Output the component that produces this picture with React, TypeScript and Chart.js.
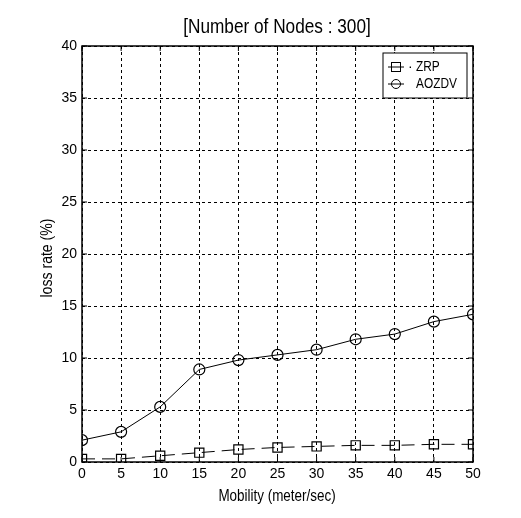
import React, { useEffect, useRef } from "react";
import { Chart, registerables } from "chart.js";

Chart.register(...registerables);

const mobility = [0, 5, 10, 15, 20, 25, 30, 35, 40, 45, 50];
const zrp = [0.3, 0.3, 0.6, 0.9, 1.2, 1.4, 1.5, 1.6, 1.6, 1.7, 1.7];
const aozdv = [2.1, 2.9, 5.3, 8.9, 9.8, 10.3, 10.8, 11.8, 12.3, 13.5, 14.2];
const yTicks = [0, 5, 10, 15, 20, 25, 30, 35, 40];
const titleText = "[Number of Nodes : 300]";
const xTitle = "Mobility (meter/sec)";
const yTitle = "loss rate (%)";

const FONT = "'Liberation Sans', Arial, sans-serif";

function condensedText(ctx: any, text: string, x: number, y: number, sx: number) {
  ctx.save();
  ctx.translate(x, y);
  ctx.scale(sx, 1);
  ctx.fillText(text, 0, 0);
  ctx.restore();
}

const decorPlugin = {
  id: "decor",
  afterDraw(chart: any) {
    const { ctx, chartArea } = chart;
    const { left, right, top, bottom } = chartArea;
    const xs = chart.scales.x;
    const ys = chart.scales.y;
    ctx.save();
    ctx.strokeStyle = "#000";
    ctx.lineWidth = 1.5;
    ctx.setLineDash([]);
    ctx.strokeRect(left, top, right - left, bottom - top);
    ctx.lineWidth = 1;
    mobility.forEach((v) => {
      const x = xs.getPixelForValue(v);
      ctx.beginPath();
      ctx.moveTo(x, bottom);
      ctx.lineTo(x, bottom - 5);
      ctx.moveTo(x, top);
      ctx.lineTo(x, top + 5);
      ctx.stroke();
    });
    yTicks.forEach((v) => {
      const y = ys.getPixelForValue(v);
      ctx.beginPath();
      ctx.moveTo(left, y);
      ctx.lineTo(left + 5, y);
      ctx.moveTo(right, y);
      ctx.lineTo(right - 5, y);
      ctx.stroke();
    });
    ctx.fillStyle = "#000";
    ctx.textAlign = "center";
    ctx.textBaseline = "middle";
    ctx.font = `21px ${FONT}`;
    condensedText(ctx, titleText, 277, 27, 0.82);
    ctx.font = `16px ${FONT}`;
    condensedText(ctx, xTitle, 277, 497, 0.84);
    ctx.save();
    ctx.translate(48, 258);
    ctx.rotate(-Math.PI / 2);
    ctx.scale(0.88, 1);
    ctx.fillText(yTitle, 0, 0);
    ctx.restore();
    // legend
    const lx = 383, ly = 53, lw = 84, lh = 45;
    ctx.fillStyle = "#fff";
    ctx.fillRect(lx, ly, lw, lh);
    ctx.strokeStyle = "#000";
    ctx.lineWidth = 1;
    ctx.strokeRect(lx, ly, lw, lh);
    ctx.font = `14px ${FONT}`;
    ctx.textAlign = "left";
    ctx.fillStyle = "#000";
    const y1 = ly + 14;
    ctx.beginPath();
    ctx.moveTo(lx + 5, y1);
    ctx.lineTo(lx + 21, y1);
    ctx.stroke();
    ctx.strokeRect(lx + 8.5, y1 - 4.5, 9, 9);
    ctx.fillText("·", lx + 25, y1);
    condensedText(ctx, "ZRP", lx + 33, y1, 0.85);
    const y2 = ly + 31;
    ctx.beginPath();
    ctx.moveTo(lx + 5, y2);
    ctx.lineTo(lx + 21, y2);
    ctx.stroke();
    ctx.beginPath();
    ctx.arc(lx + 13, y2, 4.5, 0, Math.PI * 2);
    ctx.stroke();
    condensedText(ctx, "AOZDV", lx + 33, y2, 0.85);
    ctx.restore();
  },
};

export default function App() {
  const ref = useRef<HTMLCanvasElement>(null);
  useEffect(() => {
    if (!ref.current) return;
    const chart = new Chart(ref.current, {
      type: "line",
      data: {
        datasets: [
          {
            label: "ZRP",
            data: mobility.map((x, i) => ({ x, y: zrp[i] })),
            borderColor: "#000",
            backgroundColor: "transparent",
            borderWidth: 1,
            borderDash: [13, 7],
            pointStyle: "rect",
            pointRadius: 6.5,
            pointBorderColor: "#000",
            pointBackgroundColor: "transparent",
            pointBorderWidth: 1.2,
          },
          {
            label: "AOZDV",
            data: mobility.map((x, i) => ({ x, y: aozdv[i] })),
            borderColor: "#000",
            backgroundColor: "transparent",
            borderWidth: 1,
            pointStyle: "circle",
            pointRadius: 5.5,
            pointBorderColor: "#000",
            pointBackgroundColor: "transparent",
            pointBorderWidth: 1.2,
          },
        ],
      },
      options: {
        responsive: false,
        animation: false,
        layout: { padding: { left: 0, right: 48, top: 46, bottom: 0 } },
        plugins: { legend: { display: false }, tooltip: { enabled: false }, title: { display: false } },
        scales: {
          x: {
            type: "linear",
            min: 0,
            max: 50,
            afterFit: (s: any) => { s.height = 56; },
            afterBuildTicks: (s: any) => { s.ticks = mobility.map((v) => ({ value: v })); },
            grid: { color: "#000", lineWidth: 1, drawTicks: false },
            border: { display: false, dash: [3, 3] },
            ticks: { color: "#000", font: { family: FONT, size: 14 }, padding: 4, maxRotation: 0 },
          },
          y: {
            type: "linear",
            min: 0,
            max: 40,
            afterFit: (s: any) => { s.width = 82; },
            afterBuildTicks: (s: any) => { s.ticks = yTicks.map((v) => ({ value: v })); },
            grid: { color: "#000", lineWidth: 1, drawTicks: false },
            border: { display: false, dash: [3, 3] },
            ticks: { color: "#000", font: { family: FONT, size: 14 }, padding: 5 },
          },
        },
      },
      plugins: [decorPlugin],
    } as any);
    return () => chart.destroy();
  }, []);
  return (
    <div style={{ position: "fixed", left: 0, top: 0, width: 521, height: 518, background: "#fff" }}>
      <canvas ref={ref} width={521} height={518} style={{ width: 521, height: 518, display: "block" }} />
    </div>
  );
}
